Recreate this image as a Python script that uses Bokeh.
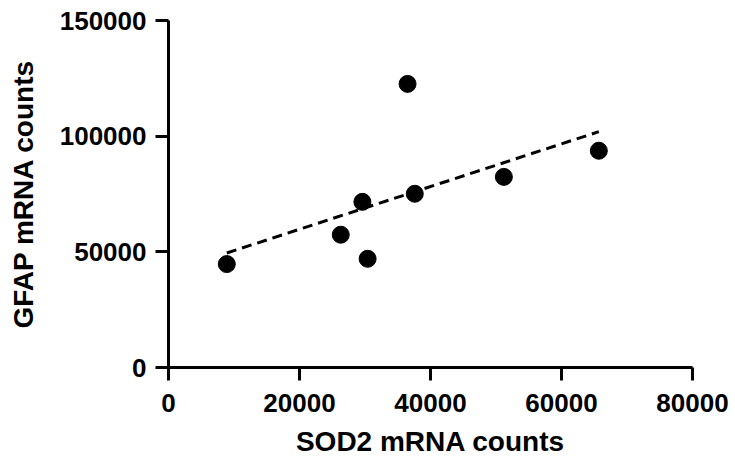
import numpy as np
from bokeh.plotting import figure
from bokeh.models import Range1d, FixedTicker, NumeralTickFormatter
from bokeh.embed import file_html
from bokeh.resources import INLINE

# Data
sod2 = [8900, 26300, 29600, 30400, 36500, 37600, 51200, 65700]
gfap = [44700, 57400, 71600, 47000, 122600, 75100, 82400, 93700]
x_ticks = [0, 20000, 40000, 60000, 80000]
y_ticks = [0, 50000, 100000, 150000]

# Linear regression fit
slope, intercept = np.polyfit(sod2, gfap, 1)
fit_x = [min(sod2), max(sod2)]
fit_y = [slope * v + intercept for v in fit_x]

FONT = "Liberation Sans"

p = figure(width=735, height=464, output_backend="svg", toolbar_location=None,
           x_range=Range1d(0, 80000), y_range=Range1d(0, 150000),
           min_border_left=168, min_border_right=43, min_border_top=20, min_border_bottom=97)
p.background_fill_color = "white"
p.border_fill_color = "white"
p.outline_line_color = None
p.grid.grid_line_color = None

p.line(fit_x, fit_y, line_color="black", line_width=3, line_dash="10 6")
p.scatter(sod2, gfap, size=17, fill_color="black", line_color="black")

for ax in (p.xaxis[0], p.yaxis[0]):
    ax.axis_line_width = 3
    ax.axis_line_color = "black"
    ax.major_tick_line_width = 3
    ax.major_tick_line_color = "black"
    ax.major_tick_out = 13
    ax.major_tick_in = 0
    ax.minor_tick_line_color = None
    ax.major_label_text_font = FONT
    ax.major_label_text_font_style = "bold"
    ax.major_label_text_font_size = "26px"
    ax.major_label_text_color = "black"
    ax.axis_label_text_font = FONT
    ax.axis_label_text_font_style = "bold"
    ax.axis_label_text_font_size = "28px"
    ax.axis_label_text_color = "black"
    ax.formatter = NumeralTickFormatter(format="0")

p.xaxis.ticker = FixedTicker(ticks=x_ticks)
p.yaxis.ticker = FixedTicker(ticks=y_ticks)
p.xaxis.axis_label = "SOD2 mRNA counts"
p.yaxis.axis_label = "GFAP mRNA counts"
p.xaxis.major_label_standoff = 13
p.xaxis.axis_label_standoff = 11
p.yaxis.major_label_standoff = 9
p.yaxis.axis_label_standoff = 18

open("out.html", "w").write(file_html(p, INLINE))
